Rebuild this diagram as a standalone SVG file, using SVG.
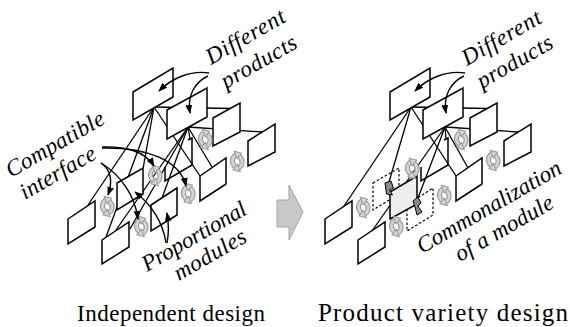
<svg xmlns="http://www.w3.org/2000/svg" xmlns:xlink="http://www.w3.org/1999/xlink" width="570" height="327" viewBox="0 0 570 327">
  <style>
    .bx { fill:#fff; stroke:#000; stroke-width:1.5; stroke-linejoin:miter; }
    .pbx { fill:none; stroke:#000; stroke-width:1.5; }
    .dbx { fill:none; stroke:#000; stroke-width:1.2; stroke-dasharray:2.5 2; }
    .cbx { fill:#eeeeee; stroke:#000; stroke-width:1.5; }
    .adp { fill:#8a8a8a; stroke:#000; stroke-width:1; stroke-linejoin:round; }
    .ln { stroke:#000; stroke-width:1.3; fill:none; }
    .ar { stroke:#000; stroke-width:1.4; fill:none; marker-end:url(#ah); }
    .ib { fill:none; stroke:#9a9a9a; stroke-width:4; stroke-linecap:round; }
    .ic { fill:none; stroke:#d4d4d4; stroke-width:2.2; stroke-linecap:round; }
    .ih { fill:#d4d4d4; stroke:#9a9a9a; stroke-width:0.8; stroke-linejoin:round; }
  </style>
  <defs>
    <marker id="ah" viewBox="0 0 10 10" refX="9" refY="5" markerWidth="9" markerHeight="7" markerUnits="userSpaceOnUse" orient="auto" preserveAspectRatio="none">
      <path d="M0,0 L10,5 L0,10 Z" fill="#000"/>
    </marker>
    <!-- interface symbol: two curved arrows forming a ring -->
    <g id="ifc" transform="rotate(-25) scale(1.25)">
      <path class="ib" d="M-3.5,3 C-5,-2 -1,-5.5 2.5,-4.5"/>
      <path class="ib" d="M3.5,-2 C5,3 1,6.5 -2.5,5.5"/>
      <path class="ic" d="M-3.5,3 C-5,-2 -1,-5.5 2.5,-4.5"/>
      <path class="ic" d="M3.5,-2 C5,3 1,6.5 -2.5,5.5"/>
      <polygon class="ih" points="1.2,-8 6,-4 0.8,-1.5"/>
      <polygon class="ih" points="-1.2,9 -6,5 -0.8,2.5"/>
    </g>
  </defs>

  <!-- hub-to-module connectors -->
  <g id="connectors">
    <!-- independent design -->
    <path class="ln" d="M154,107 L88,205"/>
    <path class="ln" d="M154,107 L106,237"/>
    <path class="ln" d="M154,107 L143,169"/>
    <path class="ln" d="M154,107 L231,108.5"/>
    <path class="ln" d="M154,107 L200,176"/>
    <path class="ln" d="M188,127 L116,230"/>
    <path class="ln" d="M188,127 L130,229"/>
    <path class="ln" d="M188,127 L162,198"/>
    <path class="ln" d="M188,127 L190,139"/>
    <path class="ln" d="M188,127 L212,167"/>
    <path class="ln" d="M188,127 L262,132"/>
    <!-- product variety design -->
    <path class="ln" d="M411,107 L344,206"/>
    <path class="ln" d="M411,107 L389,182"/>
    <path class="ln" d="M411,107 L487,108.5"/>
    <path class="ln" d="M411,107 L456,176"/>
    <path class="ln" d="M445,127 L372,231"/>
    <path class="ln" d="M445,127 L418,198"/>
    <path class="ln" d="M445,127 L446,139"/>
    <path class="ln" d="M445,127 L468,168"/>
    <path class="ln" d="M445,127 L518,132"/>
  </g>

  <!-- independent design: product and module boxes -->
  <g id="box-a"><polygon class="bx" points="133,92 173,68 173,97 133,120"/></g>
  <g id="box-b"><polygon class="bx" points="167,110 207,88 207,117 167,139"/></g>
  <g id="box-c"><polygon class="bx" points="213,118 240,103 240,132 213,146"/></g>
  <g id="box-d"><polygon class="bx" points="248,141 275,124 275,152 248,166"/></g>
  <g id="box-k"><path class="pbx" d="M188,140 L192,138 L192,165 L165,181 L165,167"/></g>
  <g id="box-e"><polygon class="bx" points="68,219 95,201 95,227 68,244"/></g>
  <g id="box-g"><polygon class="bx" points="117,183 143,168 143,194 117,210"/></g>
  <g id="box-f"><polygon class="bx" points="102,240 129,222 129,247 102,264"/></g>
  <g id="box-h"><polygon class="bx" points="151,205 177,188 177,215 151,231"/></g>
  <g id="box-i"><polygon class="bx" points="200,176 226,158 226,184 200,201"/></g>

  <!-- product variety design: product and module boxes -->
  <g id="box-a2"><polygon class="bx" points="390,92 430,68 430,97 390,120"/></g>
  <g id="box-b2"><polygon class="bx" points="423,110 463,88 463,117 423,139"/></g>
  <g id="box-c2"><polygon class="bx" points="470,118 497,103 497,132 470,146"/></g>
  <g id="box-d2"><polygon class="bx" points="504,141 531,124 531,152 504,166"/></g>
  <g id="box-k2"><path class="pbx" d="M444,140 L448,138 L448,165 L421,181 L421,167"/></g>
  <g id="box-e2"><polygon class="bx" points="325,219 352,201 352,227 325,244"/></g>
  <g id="box-f2"><polygon class="bx" points="358,240 385,222 385,247 358,264"/></g>
  <g id="box-g2"><polygon class="dbx" points="373,183 399,168 399,194 373,210"/></g>
  <g id="box-h2"><polygon class="dbx" points="407,205 433,188 433,215 407,231"/></g>
  <g id="box-common">
    <polygon class="cbx" points="390,192 417,176 417,204 390,219"/>
    <path class="adp" d="M385,183 L391,181 L393.5,188 L389.5,190 L392.5,195 L386.5,194 Z"/>
    <path class="adp" d="M413,201 L418,197 L421,203 L418,206 L422,212 L417,215 L415,207 Z"/>
  </g>
  <g id="box-i2"><polygon class="bx" points="456,176 482,158 482,184 456,201"/></g>

  <!-- interface symbols between neighbouring modules -->
  <g id="interfaces">
    <use xlink:href="#ifc" href="#ifc" x="205" y="139"/>
    <use xlink:href="#ifc" href="#ifc" x="237" y="161"/>
    <use xlink:href="#ifc" href="#ifc" x="107" y="206"/>
    <use xlink:href="#ifc" href="#ifc" x="141" y="226"/>
    <use xlink:href="#ifc" href="#ifc" x="188" y="193"/>
    <use xlink:href="#ifc" href="#ifc" x="155" y="175"/>
    <use xlink:href="#ifc" href="#ifc" x="461" y="139"/>
    <use xlink:href="#ifc" href="#ifc" x="493" y="160"/>
    <use xlink:href="#ifc" href="#ifc" x="363" y="207"/>
    <use xlink:href="#ifc" href="#ifc" x="396" y="226"/>
    <use xlink:href="#ifc" href="#ifc" x="444" y="195"/>
    <use xlink:href="#ifc" href="#ifc" x="412" y="168"/>
  </g>

  <!-- annotation arrows -->
  <g id="annotation-arrows">
    <path class="ar" d="M209,73 C191,70 172,78 159,91"/>
    <path class="ar" d="M208,76 C195,82 187,95 190,113"/>
    <path class="ar" d="M102,147 C124,146 145,151 154,166"/>
    <path class="ar" d="M102,148 C146,147 180,160 186,186"/>
    <path class="ar" d="M101,163 C111,170 113,181 108,195"/>
    <path class="ar" d="M101,163 C121,175 135,196 138,219"/>
    <path class="ar" d="M166,243 C163,222 151,204 135,192"/>
    <path class="ar" d="M167,243 C169,233 169,225 167,213"/>
    <path class="ar" d="M465,73 C447,70 428,78 415,91"/>
    <path class="ar" d="M464,76 C451,82 443,95 446,113"/>
  </g>

  <!-- transition arrow -->
  <g id="transition">
    <polygon points="277,200 289,200 289,185 303,212 289,240 289,227 277,227" fill="#c9c9c9" stroke="#a3a3a3" stroke-width="1"/>
  </g>

  <!-- labels -->
  <g id="labels" font-family="'Liberation Serif', 'Times New Roman', serif" fill="#000">
    <g font-style="italic" font-size="23">
      <text transform="translate(211,65) rotate(-30)" textLength="88">Different</text>
      <text transform="translate(226,89) rotate(-30)" textLength="84">products</text>
      <text transform="translate(11,178) rotate(-30)" textLength="110">Compatible</text>
      <text transform="translate(25,200) rotate(-30)" textLength="84">interface</text>
      <text transform="translate(147,272) rotate(-30)" textLength="117">Proportional</text>
      <text transform="translate(179,281) rotate(-30)" textLength="80">modules</text>
      <text transform="translate(467,66) rotate(-30)" textLength="88">Different</text>
      <text transform="translate(482,89) rotate(-30)" textLength="84">products</text>
      <text transform="translate(422,254) rotate(-30)" textLength="163">Commonalization</text>
      <text transform="translate(460,262) rotate(-30)" textLength="110">of a module</text>
    </g>
    <text x="77" y="321" font-size="23" textLength="188">Independent design</text>
    <text x="318" y="321" font-size="25" textLength="250">Product variety design</text>
  </g>
</svg>
